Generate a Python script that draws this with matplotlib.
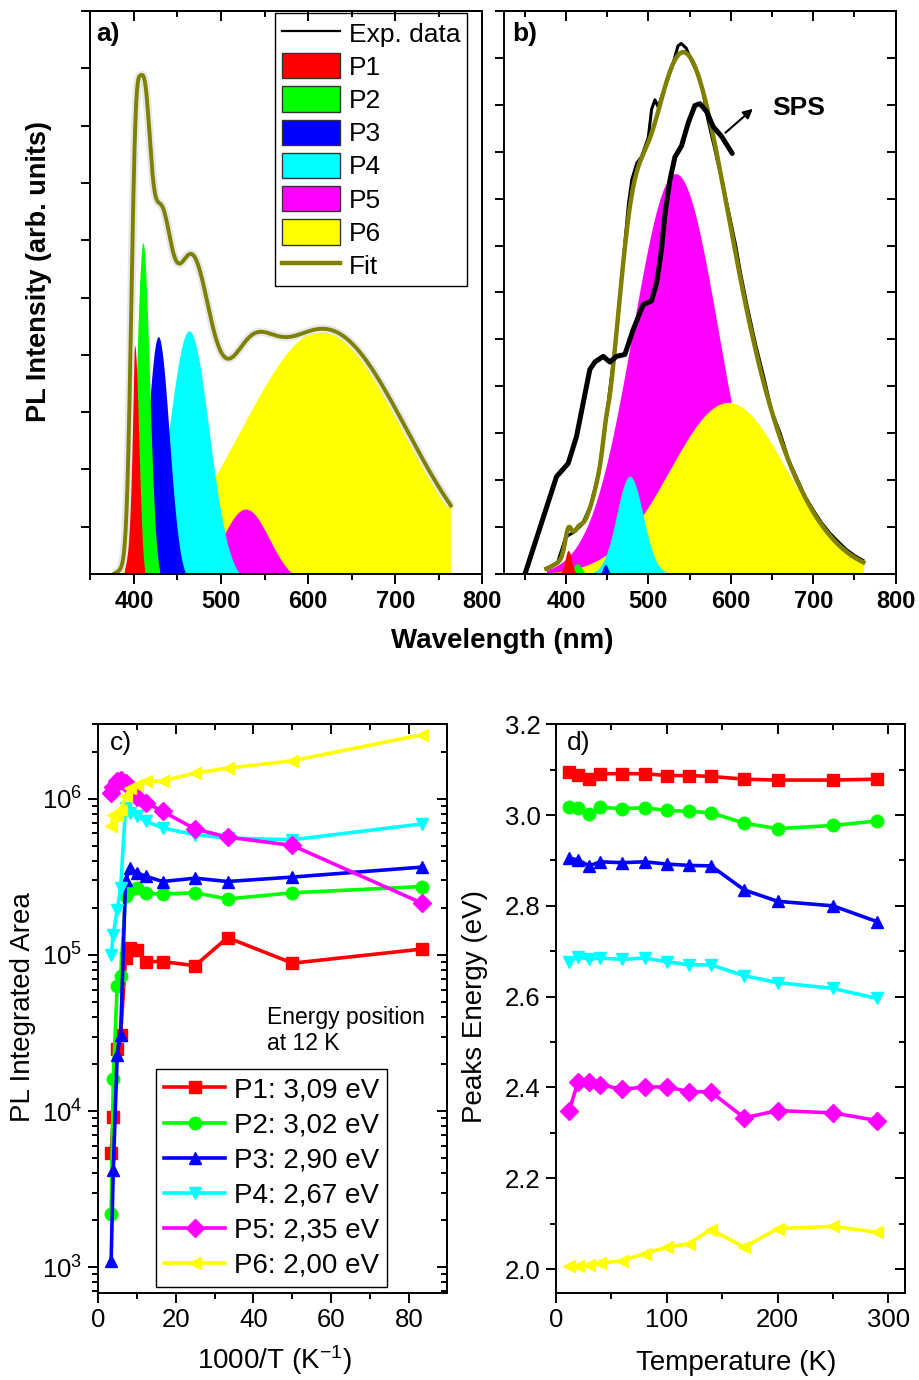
import numpy as np
import matplotlib
matplotlib.use('Agg')
from matplotlib import pyplot as plt
from matplotlib.lines import Line2D
from matplotlib.patches import Patch
from matplotlib.ticker import MultipleLocator, LogLocator, NullFormatter, FormatStrFormatter

plt.rcParams['font.family'] = ['Liberation Sans', 'DejaVu Sans']
plt.rcParams['mathtext.fontset'] = 'custom'
plt.rcParams['mathtext.rm'] = 'Liberation Sans'
plt.rcParams['mathtext.it'] = 'Liberation Sans:italic'
plt.rcParams['mathtext.bf'] = 'Liberation Sans:bold'
plt.rcParams['axes.linewidth'] = 1.4


# -------------------- data ----------------------

peak_names = ['P1', 'P2', 'P3', 'P4', 'P5', 'P6']
peak_colors = ['#ff0000', '#00ff00', '#0000ff', '#00ffff', '#ff00ff', '#ffff00']
peak_markers = ['s', 'o', '^', 'v', 'D', '<']
peak_energy = ['3,09', '3,02', '2,90', '2,67', '2,35', '2,00']

# gaussian fit components, spectrum a): centre (nm), height, sigma (nm)
centre_a = [400.8, 410.4, 428.0, 463.3, 528.3, 618.0]
height_a = [4.17, 5.96, 4.32, 4.42, 1.31, 4.45]
sigma_a = [4.85, 7.5, 12.5, 23.0, 27.0, 95.0]

# gaussian fit components, spectrum b)
centre_b = [403.0, 414.0, 448.0, 477.6, 533.0, 597.0]
height_b = [0.51, 0.23, 0.21, 2.09, 8.53, 3.66]
sigma_b = [4.0, 5.0, 3.0, 16.0, 52.0, 71.0]

# measured spectrum b)
exp_b_nm = [376, 390, 400, 410, 420, 430, 440, 450, 460, 470, 476, 480, 486, 492,
            500, 504, 508, 512, 520, 530, 536, 540, 546, 552, 560, 566, 572, 580,
            590, 600, 606, 612, 620, 630, 640, 650, 660, 670, 680, 690, 700, 710,
            720, 730, 740, 750, 760]
exp_b_int = [0.12, 0.25, 0.8, 0.9, 1.07, 1.46, 2.17, 3.46, 4.89, 6.75, 7.9, 8.4, 8.75, 8.9,
             9.3, 9.9, 10.1, 9.95, 10.36, 10.87, 11.25, 11.3, 11.2, 10.95, 10.65, 10.3, 9.7, 9.1,
             8.33, 7.5, 7.0, 6.4, 5.7, 4.9, 4.2, 3.45, 3.0, 2.44, 2.05, 1.66, 1.37, 1.1,
             0.88, 0.7, 0.53, 0.4, 0.3]

# SPS spectrum
sps_nm = [350.3, 388.7, 402.8, 412.9, 429.1, 435.2, 445.3, 453.4, 461.5, 471.6, 481.7,
          493.8, 503.9, 510.0, 516.1, 520.1, 526.2, 532.2, 540.3, 548.4, 556.5, 562.6,
          570.7, 578.7, 588.9, 601.8]
sps_int = [0.0, 2.08, 2.36, 2.93, 4.36, 4.52, 4.64, 4.52, 4.64, 4.68, 5.21,
           5.74, 5.82, 6.19, 6.92, 7.65, 8.39, 8.88, 9.12, 9.61, 9.98, 10.02,
           9.85, 9.53, 9.32, 8.96]

# temperature series
temp_K = [12, 20, 30, 40, 60, 80, 100, 120, 140, 170, 200, 250, 290]

area = [
    [1.09e5, 8.85e4, 1.29e5, 8.53e4, 9.06e4, 9.06e4, 1.07e5, 1.10e5, 9.5e4, 3.07e4, 2.5e4, 9.1e3, 5.36e3],
    [2.74e5, 2.5e5, 2.28e5, 2.5e5, 2.45e5, 2.48e5, 2.68e5, 2.6e5, 2.37e5, 7.3e4, 6.3e4, 1.6e4, 2.2e3],
    [3.65e5, 3.15e5, 2.95e5, 3.1e5, 2.95e5, 3.18e5, 3.35e5, 3.6e5, 3.0e5, 3.05e4, 2.3e4, 4.2e3, 1.1e3],
    [6.9e5, 5.46e5, 5.6e5, 5.88e5, 6.5e5, 7.16e5, 7.7e5, 8.1e5, 8.7e5, 2.67e5, 1.94e5, 1.35e5, 1.0e5],
    [2.14e5, 5.02e5, 5.68e5, 6.4e5, 8.3e5, 9.4e5, 1.03e6, 1.17e6, 1.27e6, 1.32e6, 1.29e6, 1.19e6, 1.09e6],
    [2.57e6, 1.75e6, 1.57e6, 1.46e6, 1.30e6, 1.29e6, 1.23e6, 1.17e6, 1.04e6, 8.5e5, 7.9e5, 7.9e5, 6.7e5],
]

energy = [
    [3.094, 3.088, 3.079, 3.091, 3.091, 3.091, 3.087, 3.087, 3.085, 3.079, 3.077, 3.077, 3.079],
    [3.018, 3.016, 3.002, 3.017, 3.014, 3.016, 3.010, 3.008, 3.005, 2.982, 2.970, 2.977, 2.987],
    [2.905, 2.901, 2.888, 2.897, 2.895, 2.897, 2.892, 2.889, 2.888, 2.835, 2.810, 2.800, 2.765],
    [2.677, 2.688, 2.682, 2.685, 2.682, 2.685, 2.677, 2.670, 2.670, 2.646, 2.631, 2.618, 2.596],
    [2.349, 2.413, 2.411, 2.406, 2.396, 2.401, 2.401, 2.391, 2.390, 2.333, 2.349, 2.344, 2.327],
    [2.006, 2.006, 2.008, 2.013, 2.018, 2.034, 2.048, 2.056, 2.087, 2.048, 2.089, 2.094, 2.081],
]


# -------------- functions -----------------

def gauss(x, c, h, s):
    return h * np.exp(-(x - c) ** 2 / (2 * s ** 2))


def components(x, centres, heights, sigmas):
    return [gauss(x, c, h, s) for c, h, s in zip(centres, heights, sigmas)]


def spectrum_ticks(ax, right=False):
    ax.xaxis.set_major_locator(MultipleLocator(100))
    ax.xaxis.set_minor_locator(MultipleLocator(50))
    ax.yaxis.set_major_locator(MultipleLocator(1))
    ax.tick_params(axis='x', which='major', direction='out', length=7.5, width=1.4,
                   labelsize=17, pad=4)
    ax.tick_params(axis='x', which='minor', direction='out', length=4, width=1.4)
    ax.tick_params(axis='y', which='both', direction='out', length=6.5, width=1.4,
                   labelleft=False)
    for lab in ax.get_xticklabels():
        lab.set_fontweight('bold')
    top = ax.secondary_xaxis('top')
    top.xaxis.set_major_locator(MultipleLocator(100))
    top.xaxis.set_minor_locator(MultipleLocator(50))
    top.tick_params(which='major', direction='in', length=7.5, width=1.4, labeltop=False)
    top.tick_params(which='minor', direction='in', length=4, width=1.4)
    top.set_zorder(6)
    if right:
        rt = ax.secondary_yaxis('right')
        rt.yaxis.set_major_locator(MultipleLocator(1))
        rt.tick_params(direction='in', length=6.5, width=1.4, labelright=False)


def mirror_ticks(ax, major_x, minor_x, log_y=False, major_y=None, minor_y=None):
    top = ax.secondary_xaxis('top')
    top.xaxis.set_major_locator(MultipleLocator(major_x))
    top.xaxis.set_minor_locator(MultipleLocator(minor_x))
    top.tick_params(which='major', direction='in', length=7.5, width=1.4, labeltop=False)
    top.tick_params(which='minor', direction='in', length=4, width=1.4)
    rt = ax.secondary_yaxis('right')
    if log_y:
        rt.set_yscale('log')
        rt.yaxis.set_major_locator(LogLocator(base=10, numticks=10))
        rt.yaxis.set_minor_locator(LogLocator(base=10, subs=np.arange(2, 10), numticks=10))
    else:
        rt.yaxis.set_major_locator(MultipleLocator(major_y))
        rt.yaxis.set_minor_locator(MultipleLocator(minor_y))
    rt.tick_params(which='major', direction='in', length=7.5, width=1.4, labelright=False)
    rt.tick_params(which='minor', direction='in', length=4, width=1.4, labelright=False)


# ------------------- figure ---------------------

fig = plt.figure(figsize=(9.2, 13.8), dpi=100)

ax_a = fig.add_axes([0.0982, 0.5838, 0.4261, 0.4082])
ax_b = fig.add_axes([0.5478, 0.5838, 0.4258, 0.4085])
ax_c = fig.add_axes([0.1062, 0.0633, 0.3793, 0.4119])
ax_d = fig.add_axes([0.6043, 0.0633, 0.3793, 0.4119])

# a) spectrum with fit components
wl_a = np.linspace(378, 763.8, 800)
comp_a = components(wl_a, centre_a, height_a, sigma_a)
fit_a = np.sum(comp_a, axis=0)
for i in [5, 4, 3, 2, 1, 0]:
    ax_a.fill_between(wl_a, 0, comp_a[i], color=peak_colors[i], lw=0)
ax_a.plot(wl_a, fit_a, color='#e4e8e8', lw=6, solid_capstyle='butt')
ax_a.plot(wl_a, fit_a, color='#808000', lw=2.8)
ax_a.set_xlim(350, 800)
ax_a.set_ylim(0.17, 10)
spectrum_ticks(ax_a)
ax_a.text(0.016, 0.98, 'a)', transform=ax_a.transAxes, fontsize=19, fontweight='bold',
          ha='left', va='top')

handles = [Line2D([], [], color='black', lw=1.6)]
handles += [Patch(facecolor=c, edgecolor='#333333', lw=1.0) for c in peak_colors]
handles += [Line2D([], [], color='#808000', lw=3.2)]
leg = ax_a.legend(handles, ['Exp. data'] + peak_names + ['Fit'], loc='upper left',
                  bbox_to_anchor=(0.472, 0.996), borderaxespad=0, fontsize=19,
                  frameon=True, fancybox=False, edgecolor='black', framealpha=1,
                  handlelength=2.2, handleheight=1.1, handletextpad=0.35,
                  labelspacing=0.25, borderpad=0.25)
leg.get_frame().set_linewidth(1.0)

# b) spectrum with fit components and SPS
wl_b = np.linspace(376.5, 760.7, 800)
comp_b = components(wl_b, centre_b, height_b, sigma_b)
fit_b = np.sum(comp_b, axis=0)
for i in [4, 5, 3, 2, 1, 0]:
    ax_b.fill_between(wl_b, 0, comp_b[i], color=peak_colors[i], lw=0)
ax_b.plot(exp_b_nm, exp_b_int, color='black', lw=2.2)
ax_b.plot(wl_b, fit_b, color='#808000', lw=3.2)
ax_b.plot(sps_nm, sps_int, color='black', lw=3.6, solid_capstyle='round')
ax_b.annotate('', xy=(629.3, 9.95), xytext=(590.9, 9.36),
              arrowprops=dict(arrowstyle='-|>', color='black', lw=1.5, mutation_scale=14))
ax_b.text(681.9, 9.93, 'SPS', fontsize=19, fontweight='bold', ha='center', va='center')
ax_b.set_xlim(325, 800)
ax_b.set_ylim(0, 12)
spectrum_ticks(ax_b, right=True)
ax_b.text(0.02, 0.979, 'b)', transform=ax_b.transAxes, fontsize=19, fontweight='bold',
          ha='left', va='top')

fig.text(0.546, 0.5355, 'Wavelength (nm)', fontsize=20, fontweight='bold',
         ha='center', va='center')
fig.text(0.042, 0.803, 'PL Intensity (arb. units)', fontsize=19.5, fontweight='bold',
         rotation=90, ha='center', va='center')

# c) integrated area vs 1000/T
inv_T = 1000.0 / np.array(temp_K)
for i in range(6):
    ax_c.plot(inv_T, area[i], color=peak_colors[i], marker=peak_markers[i], ms=9,
              mec=peak_colors[i], lw=2.6,
              label='%s: %s eV' % (peak_names[i], peak_energy[i]))
ax_c.set_yscale('log')
ax_c.set_xlim(0, 89.6)
ax_c.set_ylim(687, 3.0e6)
ax_c.xaxis.set_major_locator(MultipleLocator(20))
ax_c.xaxis.set_minor_locator(MultipleLocator(10))
ax_c.yaxis.set_major_locator(LogLocator(base=10, numticks=10))
ax_c.yaxis.set_minor_locator(LogLocator(base=10, subs=np.arange(2, 10), numticks=10))
ax_c.yaxis.set_minor_formatter(NullFormatter())
ax_c.tick_params(which='major', direction='out', length=7.5, width=1.4, labelsize=18.5)
ax_c.tick_params(which='minor', direction='out', length=4, width=1.4)
mirror_ticks(ax_c, 20, 10, log_y=True)
ax_c.text(0.035, 0.988, 'c)', transform=ax_c.transAxes, fontsize=19, ha='left', va='top')
ax_c.text(0.484, 0.504, 'Energy position\nat 12 K', transform=ax_c.transAxes,
          fontsize=16.5, ha='left', va='top', linespacing=1.15)
leg_c = ax_c.legend(loc='lower left', bbox_to_anchor=(0.167, 0.0095), borderaxespad=0,
                    fontsize=20, frameon=True, fancybox=False, edgecolor='black',
                    framealpha=1, handlelength=2.2, handletextpad=0.3,
                    labelspacing=0.33, borderpad=0.3)
leg_c.get_frame().set_linewidth(1.0)
fig.text(0.298, 0.0145, '1000/T (K$^{-1}$)', fontsize=20, ha='center', va='center')
fig.text(0.025, 0.2703, 'PL Integrated Area', fontsize=20, rotation=90,
         ha='center', va='center')

# d) peak energy vs temperature
for i in range(6):
    ax_d.plot(temp_K, energy[i], color=peak_colors[i], marker=peak_markers[i], ms=9,
              mec=peak_colors[i], lw=2.6)
ax_d.set_xlim(0, 315)
ax_d.set_ylim(1.948, 3.2)
ax_d.xaxis.set_major_locator(MultipleLocator(100))
ax_d.xaxis.set_minor_locator(MultipleLocator(50))
ax_d.yaxis.set_major_locator(MultipleLocator(0.2))
ax_d.yaxis.set_minor_locator(MultipleLocator(0.1))
ax_d.yaxis.set_major_formatter(FormatStrFormatter('%.1f'))
ax_d.tick_params(which='major', direction='out', length=7.5, width=1.4, labelsize=18.5)
ax_d.tick_params(which='minor', direction='out', length=4, width=1.4)
mirror_ticks(ax_d, 100, 50, major_y=0.2, minor_y=0.1)
ax_d.text(0.031, 0.988, 'd)', transform=ax_d.transAxes, fontsize=19, ha='left', va='top')
fig.text(0.8, 0.0125, 'Temperature (K)', fontsize=20, ha='center', va='center')
fig.text(0.516, 0.2703, 'Peaks Energy (eV)', fontsize=20, rotation=90,
         ha='center', va='center')

fig.savefig('out.png', dpi=100)
